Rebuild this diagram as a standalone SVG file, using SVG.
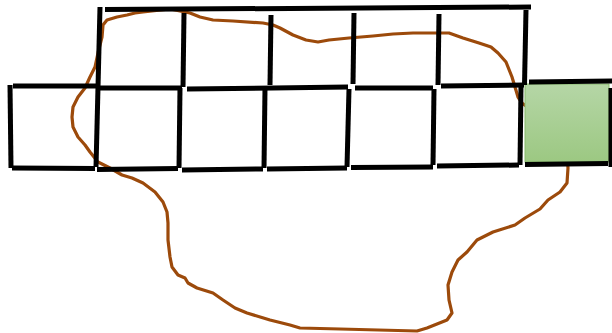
<svg xmlns="http://www.w3.org/2000/svg" width="612" height="333" viewBox="0 0 612 333">
  <defs>
    <linearGradient id="greenFill" x1="0" y1="0" x2="0" y2="1">
      <stop offset="0" stop-color="#b5d6a6"/>
      <stop offset="1" stop-color="#9cc882"/>
    </linearGradient>
    <style>
      .edge { stroke: #000; stroke-width: 5; stroke-linecap: butt; fill: none; }
      .loop { stroke: #9c4a0b; stroke-width: 3.2; fill: none; stroke-linejoin: round; stroke-linecap: round; }
      .hl { fill: url(#greenFill); stroke: #86b96a; stroke-width: 1; }
    </style>
  </defs>
  <rect width="612" height="333" fill="#fff"/>

  <g id="connectors">
    <polyline class="loop" points="143,12 135,13 127,15 117,17 107,20 103,25 102,37 100,45 98,53 95,67 90,77 85,88 78,97 73,107 72,117 73,127 78,137 85,145 90,152 98,162 110,168 122,175 132,178 143,183 155,192 163,202 167,212 168,223 168,240 170,257 172,267 178,275 185,278 188,283 197,288 213,293 223,300 235,308 247,313 270,320 290,325 300,328 340,329 417,331 427,328 437,324 447,320 452,313 449,300 448,285 452,272 458,260 467,252 477,240 493,232 515,225 525,218 540,209 548,200 560,192 567,183 568,168 566,140 545,118 526,106 522,103 518,97 515,87 512,77 506,62 498,53 491,47 479,43 463,38 449,33 433,33 413,33 393,34 373,36 349,38 329,40 318,42 306,40 293,35 280,28 273,25 263,23 233,21 213,20 200,17 190,13 170,9 143,12"/>
  </g>

  <g id="target-cell">
    <rect class="hl" x="525" y="84" width="84" height="78"/>
    <line class="edge" x1="529" y1="82" x2="612" y2="81"/>
    <line class="edge" x1="525" y1="164.5" x2="608" y2="163.5"/>
    <line class="edge" x1="611" y1="88" x2="611" y2="167"/>
  </g>

  <g id="top-row">
    <line class="edge" x1="105" y1="9.5" x2="531" y2="7"/>
    <line class="edge" x1="100" y1="7" x2="96" y2="167"/>
    <line class="edge" x1="184" y1="13" x2="183" y2="87"/>
    <line class="edge" x1="271" y1="15" x2="270" y2="85"/>
    <line class="edge" x1="354" y1="13" x2="353" y2="84"/>
    <line class="edge" x1="439" y1="14" x2="438" y2="85"/>
    <line class="edge" x1="526" y1="10" x2="524.5" y2="85"/>
  </g>

  <g id="middle-line">
    <line class="edge" x1="13" y1="86" x2="97" y2="86"/>
    <line class="edge" x1="100" y1="88" x2="182" y2="88"/>
    <line class="edge" x1="187" y1="89" x2="348" y2="87"/>
    <line class="edge" x1="355" y1="88" x2="433" y2="88"/>
    <line class="edge" x1="441" y1="86" x2="524" y2="85"/>
  </g>

  <g id="bottom-row">
    <line class="edge" x1="10" y1="85" x2="11" y2="168"/>
    <line class="edge" x1="180" y1="88" x2="179" y2="168"/>
    <line class="edge" x1="265" y1="88" x2="264" y2="168"/>
    <line class="edge" x1="349" y1="89" x2="347" y2="167"/>
    <line class="edge" x1="434" y1="89" x2="433" y2="165"/>
    <line class="edge" x1="521" y1="85" x2="520" y2="165"/>
    <line class="edge" x1="12" y1="168" x2="95" y2="168.5"/>
    <line class="edge" x1="97" y1="169.5" x2="178" y2="168.5"/>
    <line class="edge" x1="182" y1="170" x2="263" y2="169"/>
    <line class="edge" x1="267" y1="169" x2="347" y2="168"/>
    <line class="edge" x1="351" y1="167.5" x2="433" y2="167"/>
    <line class="edge" x1="437" y1="166" x2="519" y2="165"/>
  </g>
</svg>
